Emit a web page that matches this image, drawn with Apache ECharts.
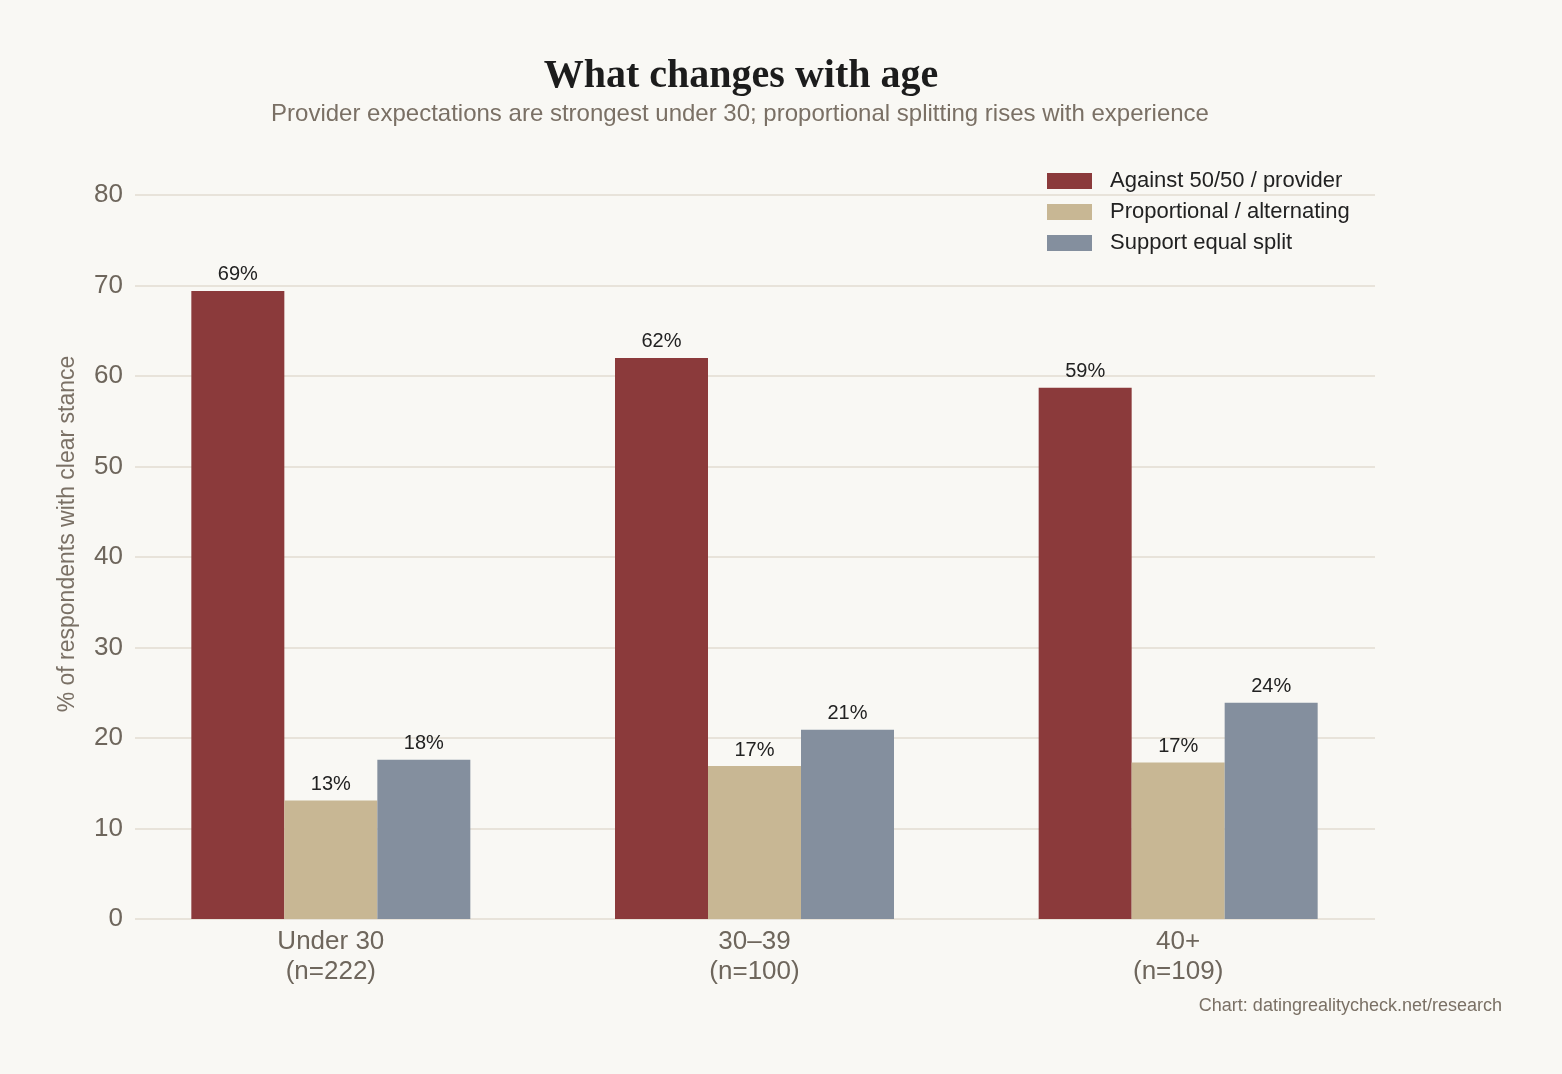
<!DOCTYPE html>
<html><head><meta charset="utf-8">
<script src="https://cdn.jsdelivr.net/npm/echarts@6/dist/echarts.min.js"></script>
<style>html,body{margin:0;padding:0;background:#f9f8f4}#c{width:1562px;height:1074px}</style>
</head><body><div id="c"></div>
<script>
const categories = ['Under 30\n(n=222)', '30–39\n(n=100)', '40+\n(n=109)'];
const seriesNames = ['Against 50/50 / provider', 'Proportional / alternating', 'Support equal split'];
const against = [69.4, 62.0, 58.7];
const proportional = [13.1, 16.9, 17.3];
const equalSplit = [17.6, 20.9, 23.9];
const yTicks = [0, 10, 20, 30, 40, 50, 60, 70, 80];
const colors = ['#8b3a3b', '#c8b794', '#848f9e'];

const chart = echarts.init(document.getElementById('c'), null, {renderer: 'canvas'});
const sans = '"Liberation Sans", Arial, Helvetica, sans-serif';
const labelCfg = {
  show: true, position: 'top', distance: 6,
  fontFamily: sans, fontSize: 20, color: '#222',
  formatter: p => Math.round(p.value) + '%'
};
function bar(name, data, color) {
  return {
    name, type: 'bar', data, xAxisIndex: 1, yAxisIndex: 1,
    barWidth: 93, barGap: '0%',
    itemStyle: {color}, label: labelCfg, emphasis: {disabled: true}
  };
}
chart.setOption({
  backgroundColor: '#f9f8f4',
  animation: false,
  color: colors,
  title: [{
    text: 'What changes with age', left: 736, top: 52, textAlign: 'center',
    textStyle: {fontFamily: '"Liberation Serif", "DejaVu Serif", serif', fontWeight: 'bold', fontSize: 40, color: '#1c1c1c'}
  }, {
    text: 'Provider expectations are strongest under 30; proportional splitting rises with experience',
    left: 735, top: 97, textAlign: 'center',
    textStyle: {fontFamily: sans, fontWeight: 'normal', fontSize: 24, color: '#7a7065'}
  }, {
    text: 'Chart: datingrealitycheck.net/research', right: 55, top: 992,
    textStyle: {fontFamily: sans, fontWeight: 'normal', fontSize: 18, color: '#7a7065'}
  }],
  legend: {
    orient: 'vertical', left: 1042, top: 165, itemWidth: 45, itemHeight: 16, itemGap: 9,
    icon: 'rect', data: seriesNames,
    textStyle: {fontFamily: sans, fontSize: 22, color: '#222', padding: [0, 0, 0, 13]}
  },
  grid: [
    {left: 135, right: 187, top: 195, bottom: 155},
    {left: 119, right: 172, top: 195, bottom: 155}
  ],
  xAxis: [
    {type: 'category', gridIndex: 0, data: categories, show: false},
    {type: 'category', gridIndex: 1, data: categories,
     axisLine: {show: false}, axisTick: {show: false},
     axisLabel: {fontFamily: sans, fontSize: 26, color: '#6e665c', lineHeight: 30, margin: 8}}
  ],
  yAxis: [
    {type: 'value', gridIndex: 0, min: 0, max: 80, interval: 10,
     axisLine: {show: false}, axisTick: {show: false},
     axisLabel: {fontFamily: sans, fontSize: 26, color: '#6e665c', margin: 12,
       formatter: v => yTicks.includes(v) ? String(v) : ''},
     splitLine: {lineStyle: {color: '#e8e3da', width: 2}}},
    {type: 'value', gridIndex: 1, min: 0, max: 80, interval: 10, show: false, splitLine: {show: false}}
  ],
  graphic: [{
    type: 'text', x: 68, y: 534, rotation: Math.PI / 2,
    style: {text: '% of respondents with clear stance', fontFamily: sans, fontSize: 23, fill: '#7a7065',
      textAlign: 'center', textVerticalAlign: 'middle'}
  }],
  series: [
    bar(seriesNames[0], against, colors[0]),
    bar(seriesNames[1], proportional, colors[1]),
    bar(seriesNames[2], equalSplit, colors[2])
  ]
});
</script></body></html>
